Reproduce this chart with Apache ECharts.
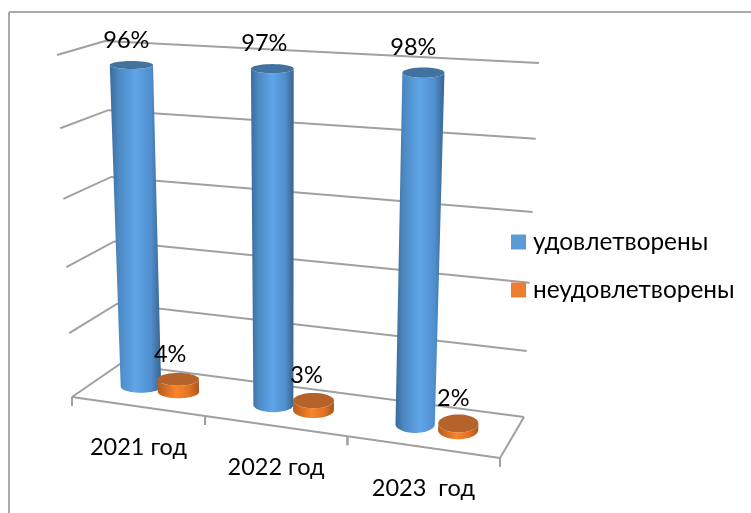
<!DOCTYPE html>
<html>
<head>
<meta charset="utf-8">
<style>html,body{margin:0;padding:0;background:#fff}#c{width:751px;height:513px}</style>
<script src="https://cdn.jsdelivr.net/npm/echarts@6/dist/echarts.min.js"></script>
</head>
<body>
<div id="c"></div>
<script>
const categories = ['2021 год', '2022 год', '2023  год'];
const satisfied = [96, 97, 98];
const unsatisfied = [4, 3, 2];
const tickValues = [0, 20, 40, 60, 80, 100];
const seriesNames = ['удовлетворены', 'неудовлетворены'];

const FONT = 'Lato, "Open Sans", sans-serif';
const LABEL_SIZE = 23.5;
const LINE = '#a0a0a0';

// Perspective box of the 3D chart: corners on screen (floor and top plane)
const box = {
  floor: { fl: [72, 397], fr: [500, 458], bl: [120, 364], br: [524, 417] },
  top:   { fl: [57, 55],  fr: [515, 77],  bl: [105, 41],  br: [539, 63] }
};
const warp = (t, c) => t / (t + c * (1 - t));
const mix = (a, b, t) => a + (b - a) * t;
function project(u, v, l) {
  const fu = warp(u, 1.108), fl = warp(l, 1.09);
  const at = (p, i) => mix(mix(p.fl[i], p.fr[i], fu), mix(p.bl[i], p.br[i], fu), v);
  return [0, 1].map(i => mix(at(box.floor, i), at(box.top, i), fl));
}
// Reads the library's own scales, and gives the fractions used by project()
function frac(params, api, cat, val, bandShift) {
  const cs = params.coordSys;
  const p = api.coord([cat, val]);
  const band = api.size([1, 0])[0];
  return { u: (p[0] + (bandShift || 0) * band - cs.x) / cs.width, l: (cs.y + cs.height - p[1]) / cs.height, bandU: band / cs.width };
}
const line = (a, b) => ({ type: 'line', shape: { x1: a[0], y1: a[1], x2: b[0], y2: b[1] }, style: { stroke: LINE, lineWidth: 2, fill: null } });

function renderGrid(params, api) {
  const l = frac(params, api, 0, api.value(1)).l;
  return {
    type: 'polyline',
    shape: { points: [project(0, 0, l), project(0, 1, l), project(1, 1, l)] },
    style: { stroke: LINE, lineWidth: 2, fill: null }
  };
}
function renderAxis(params, api) {
  const i = params.dataIndex;
  const f = frac(params, api, i, 0);
  const u0 = f.u - f.bandU / 2, u1 = f.u + f.bandU / 2;
  const a = project(u0, 0, 0), b = project(u1, 0, 0), mid = project(f.u, 0, 0);
  const kids = [line(a, b), line(a, [a[0], a[1] + 9]), line(b, [b[0], b[1] + 9])];
  if (i === categories.length - 1) kids.push(line(b, project(1, 1, 0)));
  kids.push({
    type: 'text', z2: 5,
    style: { text: categories[i], x: mid[0] + 1, y: mid[1] + 41, align: 'center', verticalAlign: 'middle', font: LABEL_SIZE + 'px ' + FONT, fill: '#000' }
  });
  return { type: 'group', children: kids };
}
function cylinder(shift, stops, topColor, labelDx) {
  return function (params, api) {
    const cat = api.value(0), val = api.value(1);
    const base = frac(params, api, cat, 0, shift), head = frac(params, api, cat, val, shift);
    const r = (0.158 - 0.012 * cat) * base.bandU;
    const ell = (l) => {
      const c = project(base.u, 0.5, l);
      const rx = (project(base.u + r, 0.5, l)[0] - project(base.u - r, 0.5, l)[0]) / 2;
      const dy = project(base.u, 0, l)[1] - project(base.u, 1, l)[1];
      return { c, rx, ry: (dy * 0.14 + 3) * (0.75 + 0.35 * base.u) };
    };
    const B = ell(0), T = ell(head.l);
    T.c[0] += 2 * (1 - base.u) * head.l;
    const arc = (e, from, to) => {
      const pts = [];
      for (let k = 0; k <= 40; k++) {
        const a = from + (to - from) * k / 40;
        pts.push([e.c[0] + e.rx * Math.cos(a), e.c[1] + e.ry * Math.sin(a)]);
      }
      return pts;
    };
    const body = arc(B, 0, Math.PI).concat(arc(T, Math.PI, 0));
    return {
      type: 'group',
      children: [
        { type: 'polygon', shape: { points: body }, style: { fill: new echarts.graphic.LinearGradient(0, 0, 1, 0, stops) } },
        { type: 'polygon', shape: { points: arc(T, 0, 2 * Math.PI) }, style: { fill: topColor } },
        { type: 'text', z2: 10, style: { text: val + '%', x: T.c[0] + labelDx[cat], y: T.c[1] - 25, align: 'center', verticalAlign: 'middle', font: LABEL_SIZE + 'px ' + FONT, fill: '#000' } }
      ]
    };
  };
}
const blueStops = [
  { offset: 0, color: '#3b6c99' }, { offset: 0.18, color: '#4d8ac4' },
  { offset: 0.5, color: '#5fa5e8' }, { offset: 0.8, color: '#508ecd' }, { offset: 1, color: '#38648d' }
];
const orangeStops = [
  { offset: 0, color: '#b55c1e' }, { offset: 0.45, color: '#fb832a' },
  { offset: 0.75, color: '#e27325' }, { offset: 1, color: '#a9571c' }
];

const chart = echarts.init(document.getElementById('c'), null, { renderer: 'canvas' });
chart.setOption({
  animation: false,
  backgroundColor: '#fff',
  color: ['#5b9bd5', '#ed7d31'],
  grid: { left: 0, top: 0, width: 751, height: 513, containLabel: false },
  xAxis: { type: 'category', data: categories, show: false },
  yAxis: { type: 'value', min: 0, max: 100, interval: 20, show: false },
  legend: {
    data: seriesNames.map(n => ({ name: n, icon: 'rect' })),
    orient: 'vertical', left: 506, top: 225, itemWidth: 15, itemHeight: 15, itemGap: 24,
    textStyle: { fontFamily: FONT, fontSize: 24.4, color: '#000', padding: [0, 0, 0, 2] }, selectedMode: false
  },
  graphic: [
    { type: 'line', shape: { x1: 9, y1: 12, x2: 751, y2: 12 }, style: { stroke: '#aaaaaa', lineWidth: 2 } },
    { type: 'line', shape: { x1: 9, y1: 12, x2: 9, y2: 513 }, style: { stroke: '#aaaaaa', lineWidth: 2 } }
  ],
  series: [
    { type: 'custom', name: 'grid', coordinateSystem: 'cartesian2d', clip: false, silent: true, z: 1,
      data: tickValues.map(v => [0, v]), renderItem: renderGrid },
    { type: 'custom', name: 'axis', coordinateSystem: 'cartesian2d', clip: false, silent: true, z: 2,
      data: categories.map((c, i) => [i, 0]), renderItem: renderAxis },
    { type: 'custom', name: seriesNames[0], coordinateSystem: 'cartesian2d', clip: false, silent: true, z: 3,
      data: satisfied.map((v, i) => [i, v]), renderItem: cylinder(-0.145, blueStops, '#42729f', [-5, -8, -10]) },
    { type: 'custom', name: seriesNames[1], coordinateSystem: 'cartesian2d', clip: false, silent: true, z: 4,
      data: unsatisfied.map((v, i) => [i, v]), renderItem: cylinder(0.145, orangeStops, '#b5632a', [-8, -7, -5]) }
  ]
});
</script>
</body>
</html>
